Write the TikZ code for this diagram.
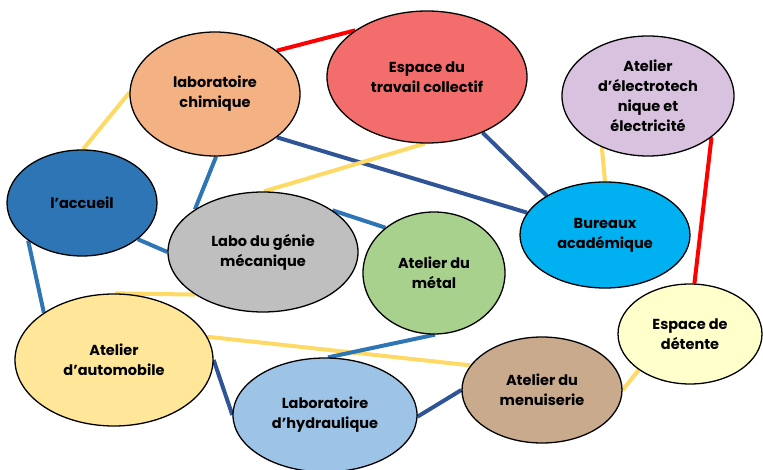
\documentclass[tikz,border=0pt]{standalone}
\usepackage{fontspec}
\setmainfont{Poppins}
\usetikzlibrary{shapes.geometric,backgrounds}
\definecolor{cchim}{HTML}{F4B183}
\definecolor{ctrav}{HTML}{F46D6D}
\definecolor{celec}{HTML}{D9C2DF}
\definecolor{cacc}{HTML}{2E75B6}
\definecolor{cgen}{HTML}{BFBFBF}
\definecolor{cmet}{HTML}{A9D18E}
\definecolor{cbur}{HTML}{00B0F0}
\definecolor{cdet}{HTML}{FFFFCC}
\definecolor{cauto}{HTML}{FFE699}
\definecolor{chyd}{HTML}{9DC3E6}
\definecolor{cmen}{HTML}{C9AA8C}
\definecolor{lyel}{HTML}{FFD966}
\definecolor{lblue}{HTML}{2E75B6}
\definecolor{ldark}{HTML}{2F5597}
\definecolor{lred}{HTML}{FF0000}
\tikzset{
  room/.style={ellipse, draw=black, line width=1.3pt, inner sep=0pt, align=center,
    font=\fontsize{14.5}{20}\selectfont\bfseries},
  yel/.style={draw=lyel, line width=4pt},
  blu/.style={draw=lblue, line width=4pt},
  dblu/.style={draw=ldark, line width=4pt},
  redl/.style={draw=lred, line width=4pt},
}
\begin{document}
\begin{tikzpicture}[x=1pt,y=-1pt]
\useasboundingbox (0,0) rectangle (763,470);
\node[room, fill=cchim, minimum width=170pt, minimum height=124pt] (chim) at (215,94) {laboratoire\\chimique};
\node[room, fill=ctrav, minimum width=200pt, minimum height=132pt] (trav) at (427,77) {Espace du\\travail collectif};
\node[room, fill=celec, minimum width=172pt, minimum height=120pt] (elec) at (648,96) {Atelier\\d’électrotech\\nique et\\électricité};
\node[room, fill=cacc, minimum width=150pt, minimum height=106pt] (acc) at (82,203) {l’accueil};
\node[room, fill=cgen, minimum width=190pt, minimum height=120pt] (gen) at (263,252) {Labo du génie\\mécanique};
\node[room, fill=cmet, minimum width=142pt, minimum height=122pt] (met) at (434,273) {Atelier du\\métal};
\node[room, fill=cbur, minimum width=170pt, minimum height=106pt] (bur) at (605,235) {Bureaux\\académique};
\node[room, fill=cdet, minimum width=144pt, minimum height=100pt] (det) at (690,334) {Espace de\\détente};
\node[room, fill=cauto, minimum width=198pt, minimum height=132pt] (auto) at (114,360) {Atelier\\d’automobile};
\node[room, fill=chyd, minimum width=184pt, minimum height=114pt] (hyd) at (325,415) {Laboratoire\\d’hydraulique};
\node[room, fill=cmen, minimum width=160pt, minimum height=106pt] (men) at (542,390) {Atelier du\\menuiserie};
\begin{pgfonlayer}{background}
\draw[redl] (chim.35.8) -- (trav.147.4);
\draw[yel] (chim.179.3) -- (acc.89);
\draw[blu] (chim.271) -- (gen.148.8);
\draw[dblu] (chim.-35.6) -- (bur.164.3);
\draw[yel] (trav.268) -- (gen.89);
\draw[dblu] (trav.-45.5) -- (bur.146.5);
\draw[yel] (elec.228.5) -- (bur.90);
\draw[redl] (elec.-33.9) -- (det.85);
\draw[blu] (acc.-33.2) -- (gen.180);
\draw[blu] (acc.215.4) -- (auto.146.5);
\draw[blu] (gen.31.5) -- (met.137.4);
\draw[yel] (gen.212) -- (auto.89);
\draw[yel] (auto.14.5) -- (men.161.6);
\draw[dblu] (auto.-0.6) -- (hyd.180);
\draw[blu] (met.271) -- (hyd.87);
\draw[dblu] (hyd.-1) -- (men.180);
\draw[yel] (men.0) -- (det.215.8);
\end{pgfonlayer}
\end{tikzpicture}
\end{document}
